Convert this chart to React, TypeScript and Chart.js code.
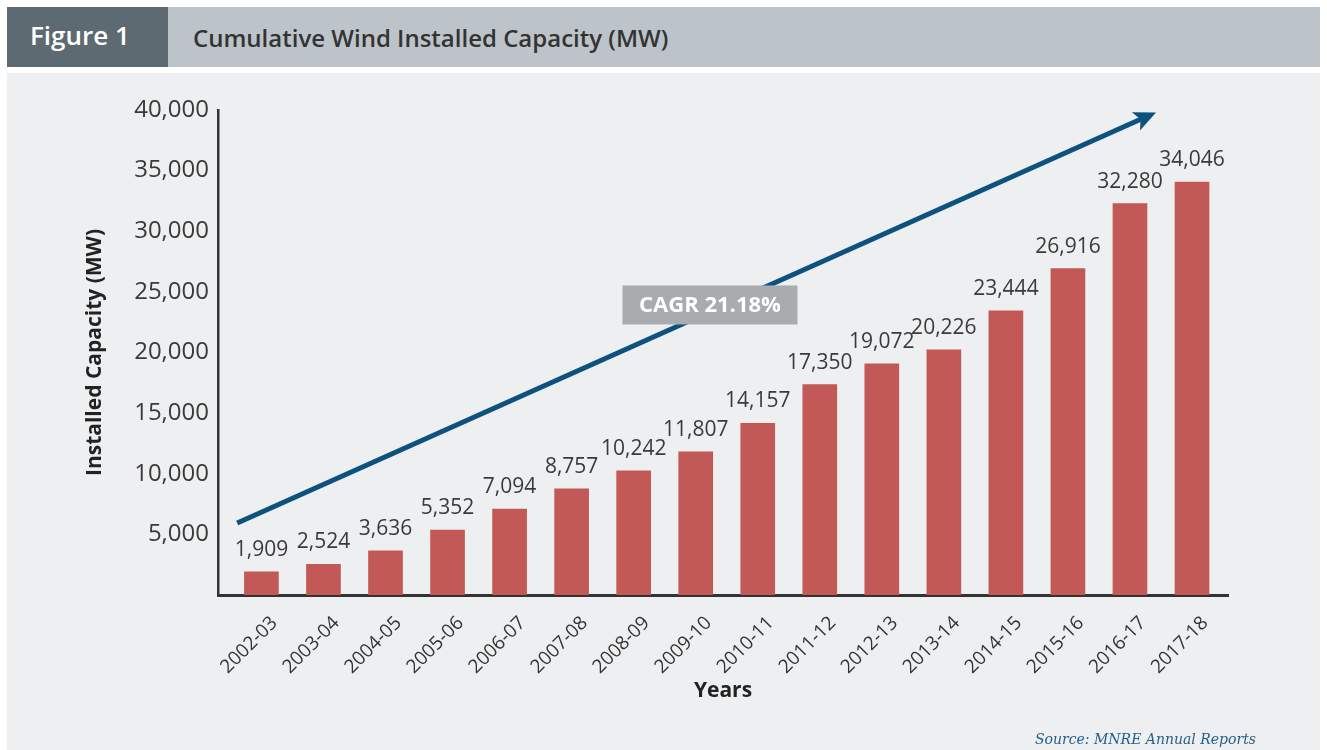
import React, { useEffect, useRef } from 'react';
import { Chart, registerables } from 'chart.js';

Chart.register(...registerables);

const categories = [
  '2002-03', '2003-04', '2004-05', '2005-06', '2006-07', '2007-08', '2008-09', '2009-10',
  '2010-11', '2011-12', '2012-13', '2013-14', '2014-15', '2015-16', '2016-17', '2017-18',
];
const capacity = [1909, 2524, 3636, 5352, 7094, 8757, 10242, 11807, 14157, 17350, 19072, 20226, 23444, 26916, 32280, 34046];
const yTickValues = [0, 5000, 10000, 15000, 20000, 25000, 30000, 35000, 40000];
const arrowFrom = { x: -0.39, y: 5940 };
const arrowTo = { x: 14.42, y: 39800 };
const cagrText = 'CAGR 21.18%';
const cagrAt = { x: 7.23, y: 23920 };

const FONT = '"Open Sans", "Noto Sans", sans-serif';

const overlayPlugin = {
  id: 'overlay',
  afterDatasetsDraw(chart: any) {
    const ctx = chart.ctx;
    const xs = chart.scales.x;
    const ys = chart.scales.y;
    // arrow
    const x1 = xs.getPixelForValue(arrowFrom.x);
    const y1 = ys.getPixelForValue(arrowFrom.y);
    const x2 = xs.getPixelForValue(arrowTo.x);
    const y2 = ys.getPixelForValue(arrowTo.y);
    const ang = Math.atan2(y2 - y1, x2 - x1);
    const c = Math.cos(ang);
    const s = Math.sin(ang);
    const headLen = 22;
    const headW = 10;
    const notch = 5;
    const bx = x2 - headLen * c;
    const by = y2 - headLen * s;
    ctx.save();
    ctx.strokeStyle = '#0d527f';
    ctx.fillStyle = '#0d527f';
    ctx.lineWidth = 5;
    ctx.lineCap = 'butt';
    ctx.beginPath();
    ctx.moveTo(x1, y1);
    ctx.lineTo(bx + (notch + 2) * c, by + (notch + 2) * s);
    ctx.stroke();
    ctx.beginPath();
    ctx.moveTo(x2, y2);
    ctx.lineTo(bx - headW * s, by + headW * c);
    ctx.lineTo(bx + notch * c, by + notch * s);
    ctx.lineTo(bx + headW * s, by - headW * c);
    ctx.closePath();
    ctx.fill();

    // CAGR box
    const cx = xs.getPixelForValue(cagrAt.x);
    const cy = ys.getPixelForValue(cagrAt.y);
    const bw = 175;
    const bh = 39;
    ctx.fillStyle = '#a9abae';
    ctx.fillRect(cx - bw / 2, cy - bh / 2, bw, bh);
    ctx.fillStyle = '#ffffff';
    ctx.font = `bold 22px ${FONT}`;
    ctx.textAlign = 'center';
    ctx.textBaseline = 'middle';
    ctx.fillText(cagrText, cx, cy + 1);

    // value labels
    const meta = chart.getDatasetMeta(0);
    ctx.fillStyle = '#3a3a3a';
    ctx.font = `21px ${FONT}`;
    ctx.textAlign = 'center';
    ctx.textBaseline = 'alphabetic';
    meta.data.forEach((bar: any, i: number) => {
      ctx.fillText(capacity[i].toLocaleString('en-US'), bar.x, bar.y - 16);
    });
    ctx.restore();
  },
};

export default function App() {
  const ref = useRef<HTMLCanvasElement | null>(null);

  useEffect(() => {
    if (!ref.current) return;
    const chart = new Chart(ref.current, {
      type: 'bar',
      data: {
        datasets: [
          {
            data: capacity.map((v, i) => ({ x: i, y: v })),
            backgroundColor: '#c25956',
            barThickness: 34,
          },
        ],
      },
      options: {
        animation: false,
        responsive: false,
        devicePixelRatio: 1,
        layout: { padding: { left: 80, right: 99, top: 110, bottom: 40 } },
        plugins: { legend: { display: false }, tooltip: { enabled: false } },
        scales: {
          x: {
            type: 'linear',
            min: -0.7,
            max: 15.58,
            offset: false,
            grid: { display: false, drawTicks: false },
            border: { display: true, color: '#333333', width: 3 },
            afterBuildTicks: (scale: any) => {
              scale.ticks = categories.map((_, i) => ({ value: i }));
            },
            afterFit: (scale: any) => {
              scale.height = 115;
            },
            ticks: {
              autoSkip: false,
              minRotation: 45,
              maxRotation: 45,
              padding: 17,
              labelOffset: 13,
              color: '#333333',
              font: { family: FONT, size: 19 },
              callback: (v: any) => categories[Math.round(Number(v))] ?? '',
            },
            title: {
              display: true,
              text: 'Years',
              color: '#222222',
              font: { family: FONT, size: 21, weight: 'bold' },
              padding: { top: 0, bottom: 6 },
            },
          },
          y: {
            min: 0,
            max: 40000,
            grid: { display: false, drawTicks: false },
            border: { display: true, color: '#333333', width: 2.5 },
            afterBuildTicks: (scale: any) => {
              scale.ticks = yTickValues.map((v) => ({ value: v }));
            },
            afterFit: (scale: any) => {
              scale.width = 138;
            },
            ticks: {
              padding: 9,
              color: '#3a3a3a',
              font: { family: FONT, size: 24 },
              callback: (v: any) => (Number(v) === 0 ? '' : Number(v).toLocaleString('en-US')),
            },
            title: {
              display: true,
              text: 'Installed Capacity (MW)',
              color: '#222222',
              font: { family: FONT, size: 21, weight: 'bold' },
              padding: { top: 2, bottom: 0 },
            },
          },
        },
      },
      plugins: [overlayPlugin],
    } as any);
    return () => chart.destroy();
  }, []);

  return (
    <div style={{ position: 'fixed', left: 0, top: 0, width: 1327, height: 750, background: '#ffffff', overflow: 'hidden' }}>
      <div style={{ position: 'absolute', left: 7, top: 7, width: 161, height: 60, background: '#5e6a71' }} />
      <div style={{ position: 'absolute', left: 168, top: 7, width: 1152, height: 60, background: '#bdc4c9' }} />
      <div style={{ position: 'absolute', left: 30, top: 7, height: 60, lineHeight: '56px', color: '#ffffff', fontFamily: FONT, fontSize: 26, fontWeight: 600 }}>
        Figure 1
      </div>
      <div style={{ position: 'absolute', left: 193, top: 7, height: 60, lineHeight: '62px', color: '#333333', fontFamily: FONT, fontSize: 24, fontWeight: 600 }}>
        Cumulative Wind Installed Capacity (MW)
      </div>
      <div style={{ position: 'absolute', left: 7, top: 73, width: 1313, height: 677, background: '#eeeff1' }} />
      <canvas ref={ref} width={1327} height={750} style={{ position: 'absolute', left: 0, top: 0, width: 1327, height: 750 }} />
      <div style={{ position: 'absolute', right: 71, top: 731, color: '#245f8c', fontFamily: '"DejaVu Serif", serif', fontStyle: 'italic', fontSize: 14 }}>
        Source: MNRE Annual Reports
      </div>
    </div>
  );
}
